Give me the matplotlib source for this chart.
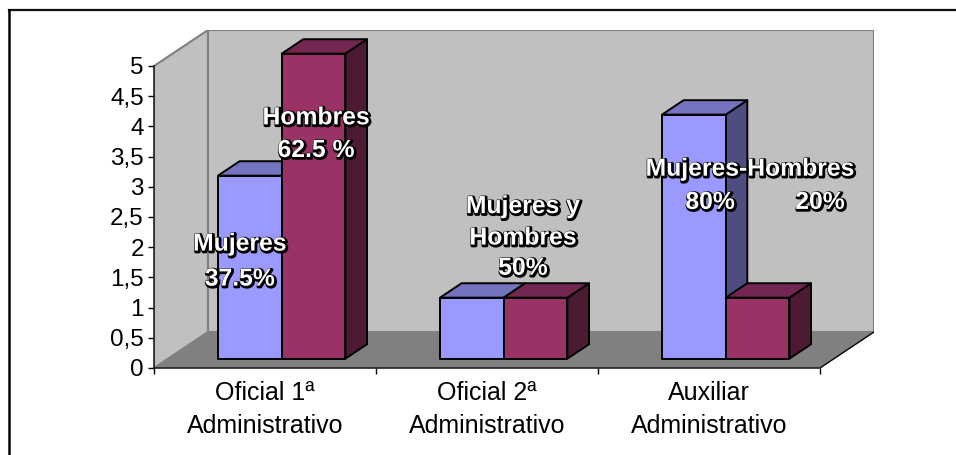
import matplotlib
matplotlib.use('Agg')
import matplotlib.pyplot as plt
import matplotlib.patheffects as pe
from matplotlib.lines import Line2D
from matplotlib.patches import Polygon

categorias = ['Oficial 1ª\nAdministrativo', 'Oficial 2ª\nAdministrativo', 'Auxiliar\nAdministrativo']
mujeres = [3, 1, 4]
hombres = [5, 1, 1]
marcas_y = [0, 0.5, 1, 1.5, 2, 2.5, 3, 3.5, 4, 4.5, 5]
etiquetas_y = ['0', '0,5', '1', '1,5', '2', '2,5', '3', '3,5', '4', '4,5', '5']

W, H = 956, 455
plt.rcParams['font.family'] = ['Liberation Sans', 'DejaVu Sans']

fig = plt.figure(figsize=(W / 100, H / 100), dpi=100)
fig.patch.set_facecolor('white')
# el marco solo se ve arriba y a la izquierda
fig.add_artist(Line2D([8.5 / W, 1], [1 - 10 / H, 1 - 10 / H], color='#111111', linewidth=1.6))
fig.add_artist(Line2D([8.5 / W, 8.5 / W], [0, 1 - 10 / H], color='black', linewidth=1.8))

# ejes: 222 px por categoria, 60.4 px por unidad
px_x, px_y = 222.0, 60.4
ax = fig.add_axes([154 / W, 1 - 368 / H, 720 / W, 338 / H])
ax.set_xlim(0, 720 / px_x)
ax.set_ylim(0, 338 / px_y)
ax.patch.set_alpha(0)

dx, dy = 54 / px_x, 36 / px_y  # fondo de la caja
escala = 1.01  # las barras quedan un poco mas cerca que el eje


def caja(x0, x1, valor, z0, z1, color, oscuro_sup, oscuro_lat):
    # barra en falsa perspectiva, z va de 0 (frente) a 1 (pared)
    y1 = valor * escala
    a = (x0 + dx * z0, dy * z0)
    b = (x1 + dx * z0, dy * z0)
    c = (x1 + dx * z0, y1 + dy * z0)
    d = (x0 + dx * z0, y1 + dy * z0)
    e = (x1 + dx * z1, dy * z1)
    f = (x1 + dx * z1, y1 + dy * z1)
    g = (x0 + dx * z1, y1 + dy * z1)
    ax.add_patch(Polygon([b, e, f, c], facecolor=oscuro_lat, edgecolor='black', linewidth=1.4, joinstyle='round'))
    ax.add_patch(Polygon([d, c, f, g], facecolor=oscuro_sup, edgecolor='black', linewidth=1.4, joinstyle='round'))
    ax.add_patch(Polygon([a, b, c, d], facecolor=color, edgecolor='black', linewidth=1.4, joinstyle='round'))


# paredes y suelo
ax.add_patch(Polygon([(0, 0), (dx, dy), (dx, 5 + dy), (0, 5)], facecolor='#C0C0C0', edgecolor='#808080', linewidth=1.5))
ax.add_patch(Polygon([(dx, dy), (3 + dx, dy), (3 + dx, 5 + dy), (dx, 5 + dy)], facecolor='#C0C0C0', edgecolor='#808080', linewidth=1.5))
ax.add_patch(Polygon([(0, 0), (3, 0), (3 + dx, dy), (dx, dy)], facecolor='#808080', edgecolor='none'))
ax.plot([3, 3 + dx], [0, dy], color='black', linewidth=1)

ancho = 0.287
z0, z1 = 0.26, 0.66
for i in range(3):
    x = i + 0.225
    caja(x, x + ancho, mujeres[i], z0, z1, '#9999FF', '#7373BF', '#4D4D80')
    caja(x + ancho, x + 2 * ancho, hombres[i], z0, z1, '#993366', '#732650', '#4D1A33')

for s in ['top', 'right']:
    ax.spines[s].set_visible(False)
ax.spines['left'].set_bounds(0, 5)
ax.spines['bottom'].set_bounds(0, 3)
ax.spines['left'].set_linewidth(1.2)
ax.spines['bottom'].set_linewidth(1.2)
ax.spines['left'].set_color('#222222')
ax.spines['bottom'].set_color('#222222')
ax.set_yticks(marcas_y)
ax.set_yticklabels(etiquetas_y, fontsize=17.5)
ax.set_xticks([0, 1, 2, 3])
ax.set_xticklabels([])
ax.set_xticks([0.5, 1.5, 2.5], minor=True)
ax.set_xticklabels(categorias, minor=True, fontsize=18, linespacing=1.5)
ax.tick_params(axis='y', length=4.3, width=1, pad=3)
ax.tick_params(axis='x', which='major', length=4.3, width=1)
ax.tick_params(axis='x', which='minor', length=0, pad=9)

# rotulos blancos con contorno negro, algo corrido abajo a la derecha
contorno = [pe.withStroke(linewidth=2.4, foreground='black', offset=(0.8, -0.8))]


def rotulo(x, y, texto):
    ax.text(x, y, texto, ha='center', va='center', color='white', fontsize=17.8, fontweight='bold',
            path_effects=contorno, clip_on=False)


rotulo(0.387, 2.06, 'Mujeres')
rotulo(0.387, 1.48, '37.5%')
rotulo(0.73, 4.15, 'Hombres')
rotulo(0.73, 3.61, '62.5 %')
rotulo(1.662, 2.68, 'Mujeres y')
rotulo(1.662, 2.16, 'Hombres')
rotulo(1.662, 1.66, '50%')
rotulo(2.685, 3.30, 'Mujeres-Hombres')
rotulo(2.505, 2.75, '80%')
rotulo(3.0, 2.75, '20%')

fig.savefig('out.png', dpi=100)
